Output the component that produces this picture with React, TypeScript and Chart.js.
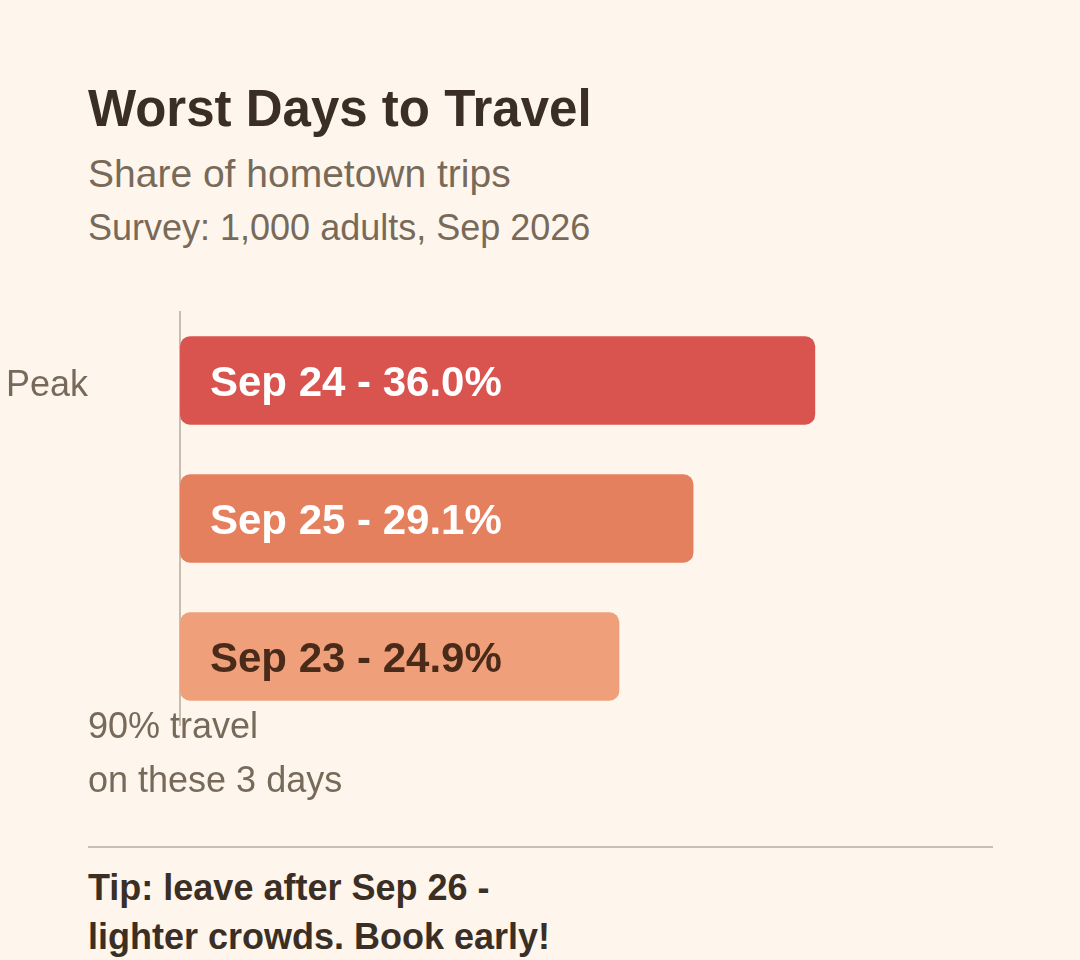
import { useEffect, useRef } from 'react'
import { Chart, registerables } from 'chart.js'

Chart.register(...registerables)

// data
const days = ['Sep 24', 'Sep 25', 'Sep 23']
const shares = [36.0, 29.1, 24.9]
const tickLabels = ['Peak', '', '']

const barColors = ['#D9534F', '#E5805F', '#EFA07A']
const labelColors = ['#FFFFFF', '#FFFFFF', '#4A2A18']

const FONT = '"Liberation Sans", Arial, Helvetica, sans-serif'
const BG = '#FEF6EC'
const DARK = '#3B2F25'
const MUTED = '#786A5A'

const barLabels = {
  id: 'barLabels',
  afterDatasetsDraw(chart: Chart) {
    const { ctx } = chart
    const meta = chart.getDatasetMeta(0)
    ctx.save()
    ctx.font = `bold 42px ${FONT}`
    ctx.textAlign = 'left'
    ctx.textBaseline = 'middle'
    meta.data.forEach((el: any, i: number) => {
      ctx.fillStyle = labelColors[i]
      ctx.fillText(`${days[i]} - ${shares[i].toFixed(1)}%`, el.base + 30, el.y + 4)
    })
    ctx.restore()
  },
}

export default function App() {
  const canvasRef = useRef<HTMLCanvasElement>(null)

  useEffect(() => {
    if (!canvasRef.current) return
    Chart.defaults.font.family = FONT
    const chart = new Chart(canvasRef.current, {
      type: 'bar',
      data: {
        labels: tickLabels,
        datasets: [
          {
            data: shares,
            backgroundColor: barColors,
            borderRadius: 10,
            borderSkipped: false,
            categoryPercentage: 0.8,
            barPercentage: 0.8,
          },
        ],
      },
      options: {
        indexAxis: 'y',
        animation: false,
        responsive: true,
        maintainAspectRatio: false,
        layout: { padding: { left: 6, right: 106, top: 11.5, bottom: 14.5 } },
        plugins: { legend: { display: false }, tooltip: { enabled: false } },
        scales: {
          x: { display: false, min: 0, max: 45 },
          y: {
            afterFit: (s: any) => {
              s.width = 174
              s.paddingTop = 0
              s.paddingBottom = 0
            },
            grid: { display: false, drawTicks: false },
            border: { display: true, color: '#C9BDAD', width: 2 },
            ticks: { color: MUTED, font: { size: 36, family: FONT }, padding: 0, crossAlign: 'far', labelOffset: 6 },
          },
        },
      },
      plugins: [barLabels],
    })
    return () => chart.destroy()
  }, [])

  const text = (top: number, size: number, bold: boolean, color: string, lh: number) => ({
    position: 'absolute' as const,
    left: 88,
    top,
    margin: 0,
    fontFamily: FONT,
    fontSize: size,
    fontWeight: bold ? 700 : 400,
    color,
    lineHeight: `${lh}px`,
    whiteSpace: 'nowrap' as const,
  })

  return (
    <div style={{ position: 'absolute', left: 0, top: 0, width: 1080, height: 960, background: BG, overflow: 'hidden' }}>
      <div style={text(82.8, 51, true, DARK, 51)}>Worst Days to Travel</div>
      <div style={text(154, 39, false, MUTED, 39)}>Share of hometown trips</div>
      <div style={text(209.5, 36, false, MUTED, 36)}>Survey: 1,000 adults, Sep 2026</div>
      <div style={{ position: 'absolute', left: 0, top: 300, width: 1080, height: 440 }}>
        <canvas ref={canvasRef} />
      </div>
      <div style={text(698.5, 36, false, MUTED, 54)}>
        90% travel
        <br />
        on these 3 days
      </div>
      <div style={{ position: 'absolute', left: 88, top: 846, width: 905, height: 2, background: '#C9BFB2' }} />
      <div style={text(863, 36, true, DARK, 49)}>
        Tip: leave after Sep 26 -
        <br />
        lighter crowds. Book early!
      </div>
    </div>
  )
}
